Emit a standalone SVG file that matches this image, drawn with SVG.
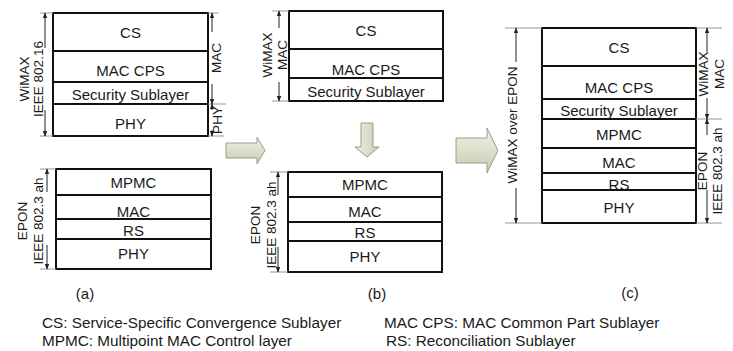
<svg xmlns="http://www.w3.org/2000/svg" width="733" height="351" viewBox="0 0 733 351">
<defs>
<marker id="ah" viewBox="0 0 8 8" refX="7" refY="4" markerWidth="6" markerHeight="6" orient="auto-start-reverse" markerUnits="userSpaceOnUse"><path d="M0,1 L8,4 L0,7 Z" fill="#222"/></marker>
<linearGradient id="gv" x1="0" y1="0" x2="0" y2="1"><stop offset="0" stop-color="#f0f2e6"/><stop offset="1" stop-color="#c7cbb0"/></linearGradient>
<linearGradient id="gh" x1="0" y1="0" x2="1" y2="0"><stop offset="0" stop-color="#f0f2e6"/><stop offset="1" stop-color="#c7cbb0"/></linearGradient>
</defs>
<style>
.box{fill:#fff;stroke:#111;stroke-width:2}
.sep{stroke:#111;stroke-width:1.8}
.t{font-family:"Liberation Sans",Arial,sans-serif;font-size:15px;fill:#1a1a1a;text-anchor:middle}
.d{font-family:"Liberation Sans",Arial,sans-serif;font-size:13.5px;fill:#1a1a1a;text-anchor:middle}
.lg{font-family:"Liberation Sans",Arial,sans-serif;font-size:15.3px;fill:#1a1a1a}
.dim{stroke:#222;stroke-width:1;fill:none}
.ext{stroke:#999;stroke-width:1;fill:none}
.blk{stroke:#9b9e88;stroke-width:1}
</style>
<rect width="733" height="351" fill="#fff"/>

<g id="a-wimax">
<rect class="box" x="53" y="13" width="155" height="123"/>
<line class="sep" x1="53" y1="51" x2="208" y2="51"/>
<line class="sep" x1="53" y1="82" x2="208" y2="82"/>
<line class="sep" x1="53" y1="104" x2="208" y2="104"/>
<text class="t" x="130.5" y="37.5">CS</text>
<text class="t" x="130.5" y="75.5">MAC CPS</text>
<text class="t" x="130.5" y="99.5">Security Sublayer</text>
<text class="t" x="130.5" y="128.5">PHY</text>
</g>

<g id="a-epon">
<rect class="box" x="56" y="169" width="155" height="100"/>
<line class="sep" x1="56" y1="195" x2="211" y2="195"/>
<line class="sep" x1="56" y1="219" x2="211" y2="219"/>
<line class="sep" x1="56" y1="239" x2="211" y2="239"/>
<text class="t" x="133.5" y="187.5">MPMC</text>
<text class="t" x="133.5" y="216.5">MAC</text>
<text class="t" x="133.5" y="235.5">RS</text>
<text class="t" x="133.5" y="258.5">PHY</text>
</g>

<g id="b-wimax">
<rect class="box" x="289" y="11" width="154" height="90"/>
<line class="sep" x1="289" y1="49" x2="443" y2="49"/>
<line class="sep" x1="289" y1="78" x2="443" y2="78"/>
<text class="t" x="366" y="35.5">CS</text>
<text class="t" x="366" y="74.5">MAC CPS</text>
<text class="t" x="366" y="96.5">Security Sublayer</text>
</g>

<g id="b-epon">
<rect class="box" x="288" y="172" width="154" height="100"/>
<line class="sep" x1="288" y1="197" x2="442" y2="197"/>
<line class="sep" x1="288" y1="222" x2="442" y2="222"/>
<line class="sep" x1="288" y1="241" x2="442" y2="241"/>
<text class="t" x="365" y="189.5">MPMC</text>
<text class="t" x="365" y="216.5">MAC</text>
<text class="t" x="365" y="237.5">RS</text>
<text class="t" x="365" y="261.5">PHY</text>
</g>

<g id="c-stack">
<rect class="box" x="542" y="28" width="154" height="195"/>
<line class="sep" x1="542" y1="66" x2="696" y2="66"/>
<line class="sep" x1="542" y1="99" x2="696" y2="99"/>
<line class="sep" x1="542" y1="119" x2="696" y2="119" stroke-width="2.6"/>
<line class="sep" x1="542" y1="148" x2="696" y2="148"/>
<line class="sep" x1="542" y1="173" x2="696" y2="173"/>
<line class="sep" x1="542" y1="190" x2="696" y2="190"/>
<text class="t" x="619" y="52.5">CS</text>
<text class="t" x="619" y="92.5">MAC CPS</text>
<text class="t" x="619" y="115.5">Security Sublayer</text>
<text class="t" x="619" y="139.5">MPMC</text>
<text class="t" x="619" y="167.5">MAC</text>
<text class="t" x="619" y="189.5">RS</text>
<text class="t" x="619" y="212.5">PHY</text>
</g>

<g id="connectors">
<path class="blk" d="M226,143 H257 V137 L265,150.5 L257,164 V158 H226 Z" fill="url(#gv)"/>
<path class="blk" d="M361,123 V147 H355 L367,157 L379,147 H373 V123 Z" fill="url(#gh)"/>
<path class="blk" d="M456,138 H487 V128 L498,150.5 L487,173 V163 H456 Z" fill="url(#gv)"/>
</g>

<g id="dimensions">
<line class="ext" x1="40" y1="13" x2="53" y2="13"/>
<line class="ext" x1="40" y1="136" x2="53" y2="136"/>
<line class="dim" x1="45" y1="48" x2="45" y2="13" marker-end="url(#ah)"/>
<line class="dim" x1="45" y1="110" x2="45" y2="136" marker-end="url(#ah)"/>
<text class="d" transform="translate(28.5,79) rotate(-90)">WiMAX</text>
<text class="d" transform="translate(42.5,79) rotate(-90)">IEEE 802.16</text>
<line class="ext" x1="208" y1="13" x2="219" y2="13"/>
<line class="ext" x1="208" y1="104" x2="226" y2="104"/>
<line class="ext" x1="208" y1="136" x2="224" y2="136"/>
<line class="dim" x1="212" y1="32" x2="212" y2="13" marker-end="url(#ah)"/>
<line class="dim" x1="212" y1="84" x2="212" y2="104" marker-end="url(#ah)"/>
<line class="dim" x1="212" y1="110" x2="212" y2="104" marker-end="url(#ah)"/>
<line class="dim" x1="212" y1="130" x2="212" y2="136" marker-end="url(#ah)"/>
<text class="d" transform="translate(220.5,58) rotate(-90)">MAC</text>
<text class="d" transform="translate(221.5,120) rotate(-90)">PHY</text>
<line class="ext" x1="40" y1="169" x2="56" y2="169"/>
<line class="ext" x1="40" y1="269" x2="56" y2="269"/>
<line class="dim" x1="47" y1="192" x2="47" y2="169" marker-end="url(#ah)"/>
<line class="dim" x1="47" y1="245" x2="47" y2="269" marker-end="url(#ah)"/>
<text class="d" transform="translate(26.5,221) rotate(-90)">EPON</text>
<text class="d" transform="translate(42.5,221) rotate(-90)">IEEE 802.3 ah</text>
<line class="ext" x1="272" y1="11" x2="289" y2="11"/>
<line class="ext" x1="272" y1="101" x2="289" y2="101"/>
<line class="dim" x1="279" y1="28" x2="279" y2="11" marker-end="url(#ah)"/>
<line class="dim" x1="279" y1="82" x2="279" y2="101" marker-end="url(#ah)"/>
<text class="d" transform="translate(271.5,55) rotate(-90)">WiMAX</text>
<text class="d" transform="translate(286.5,55) rotate(-90)">MAC</text>
<line class="ext" x1="270" y1="172" x2="288" y2="172"/>
<line class="ext" x1="270" y1="272" x2="288" y2="272"/>
<line class="dim" x1="278" y1="195" x2="278" y2="172" marker-end="url(#ah)"/>
<line class="dim" x1="278" y1="247" x2="278" y2="272" marker-end="url(#ah)"/>
<text class="d" transform="translate(259.5,225) rotate(-90)">EPON</text>
<text class="d" transform="translate(275.5,225) rotate(-90)">IEEE 802.3 ah</text>
<line class="ext" x1="505" y1="28" x2="542" y2="28"/>
<line class="ext" x1="505" y1="223" x2="542" y2="223"/>
<line class="dim" x1="516" y1="62" x2="516" y2="28" marker-end="url(#ah)"/>
<line class="dim" x1="516" y1="188" x2="516" y2="223" marker-end="url(#ah)"/>
<text class="d" transform="translate(516.5,125) rotate(-90)">WiMAX over EPON</text>
<line class="ext" x1="696" y1="28" x2="722" y2="28"/>
<line class="ext" x1="696" y1="119" x2="722" y2="119"/>
<line class="ext" x1="696" y1="223" x2="722" y2="223"/>
<line class="dim" x1="707" y1="52" x2="707" y2="28" marker-end="url(#ah)"/>
<line class="dim" x1="707" y1="98" x2="707" y2="119" marker-end="url(#ah)"/>
<line class="dim" x1="707" y1="135" x2="707" y2="119" marker-end="url(#ah)"/>
<line class="dim" x1="707" y1="190" x2="707" y2="223" marker-end="url(#ah)"/>
<text class="d" transform="translate(707.5,74) rotate(-90)">WiMAX</text>
<text class="d" transform="translate(723.5,74) rotate(-90)">MAC</text>
<text class="d" transform="translate(706.5,171) rotate(-90)">EPON</text>
<text class="d" transform="translate(721.5,171) rotate(-90)">IEEE 802.3 ah</text>
</g>

<g id="captions">
<text class="t" x="85" y="299">(a)</text>
<text class="t" x="377" y="299">(b)</text>
<text class="t" x="630" y="298">(c)</text>
</g>

<g id="legend">
<text class="lg" x="42" y="328">CS: Service-Specific Convergence Sublayer</text>
<text class="lg" x="384" y="328">MAC CPS: MAC Common Part Sublayer</text>
<text class="lg" x="42" y="346">MPMC: Multipoint MAC Control layer</text>
<text class="lg" x="386" y="346">RS: Reconciliation Sublayer</text>
</g>
</svg>
